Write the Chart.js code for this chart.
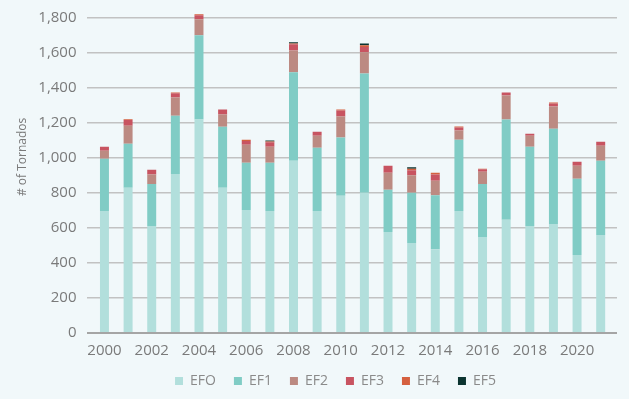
<!DOCTYPE html>
<html><head><meta charset="utf-8">
<script src="https://cdn.jsdelivr.net/npm/chart.js@4.4.1/dist/chart.umd.min.js"></script>
<style>html,body{margin:0;padding:0;background:#F1F8FA;overflow:hidden}#wrap{width:629px;height:399px}</style>
</head><body><div id="wrap"><canvas id="c" width="629" height="399"></canvas></div>
<script>
const years = ['2000','2001','2002','2003','2004','2005','2006','2007','2008','2009','2010','2011','2012','2013','2014','2015','2016','2017','2018','2019','2020','2021'];
const shownYears = ['2000','2002','2004','2006','2008','2010','2012','2014','2016','2018','2020'];
const legendNames = ['EFO','EF1','EF2','EF3','EF4','EF5'];
const ef0 = [696, 828, 610, 907, 1217, 828, 701, 696, 982, 696, 782, 800, 576, 513, 478, 696, 547, 645, 610, 622, 444, 559];
const ef1 = [298, 251, 240, 332, 480, 348, 269, 274, 504, 360, 332, 680, 240, 286, 308, 406, 303, 572, 452, 543, 435, 423];
const ef2 = [45, 103, 54, 103, 91, 69, 103, 92, 125, 69, 120, 120, 97, 100, 82, 52, 69, 137, 63, 126, 74, 86];
const ef3 = [23, 33, 26, 25, 24, 29, 22, 26, 35, 23, 34, 30, 40, 29, 36, 17, 14, 17, 11, 17, 23, 23];
const ef4 = [0, 3, 0, 4, 5, 0, 6, 4, 5, 0, 6, 10, 0, 9, 9, 6, 3, 0, 0, 6, 0, 0];
const ef5 = [0, 0, 0, 0, 0, 0, 0, 5, 6, 0, 0, 11, 0, 8, 0, 0, 0, 0, 0, 0, 0, 0];
const yTicks = [0, 200, 400, 600, 800, 1000, 1200, 1400, 1600, 1800];
const yMax = 1830;
const colors = ['#B2DFDC','#80CCC5','#BC8A82','#C85461','#D5603F','#0B3430'];
const series = [ef0, ef1, ef2, ef3, ef4, ef5];

const datasets = series.map((d, i) => ({
  label: legendNames[i],
  data: d.map((v, j) => ({ x: j, y: v })),
  backgroundColor: colors[i],
  borderWidth: 0,
  barPercentage: 0.38,
  categoryPercentage: 1.0
}));

const legendShift = {
  id: 'legendShift',
  afterLayout(chart) {
    const lg = chart.legend;
    if (!lg) return;
    lg.left += 27; lg.right += 27;
    lg.top -= 5; lg.bottom -= 5;
  }
};

new Chart(document.getElementById('c'), {
  type: 'bar',
  data: { datasets },
  plugins: [legendShift],
  options: {
    responsive: false,
    animation: false,
    devicePixelRatio: 1,
    layout: { padding: { left: 0, right: 12, top: 12, bottom: -4 } },
    plugins: {
      tooltip: { enabled: false },
      legend: {
        position: 'bottom',
        labels: {
          boxWidth: 8, boxHeight: 8, padding: 18,
          color: '#8a8a8a',
          font: { family: 'Open Sans', size: 14 }
        }
      }
    },
    scales: {
      x: {
        type: 'linear',
        stacked: true,
        min: -0.76, max: 21.69,
        offset: false,
        grid: { display: false },
        border: { display: false },
        afterBuildTicks: s => { s.ticks = shownYears.map(y => ({ value: years.indexOf(y) })); },
        ticks: {
          autoSkip: false, maxRotation: 0, padding: 1,
          color: '#7a7a7a',
          font: { family: 'Open Sans', size: 15 },
          callback: v => years[v]
        }
      },
      y: {
        stacked: true,
        min: 0, max: yMax,
        afterFit: s => { s.width = 86.5; },
        afterBuildTicks: s => { s.ticks = yTicks.map(v => ({ value: v })); },
        border: { display: false },
        grid: {
          drawTicks: true, tickLength: 10, tickColor: 'rgba(0,0,0,0)',
          color: c => c.tick && c.tick.value === 0 ? '#a5a5a5' : '#c2c2c2',
          lineWidth: c => c.tick && c.tick.value === 0 ? 2 : 1.5
        },
        ticks: {
          padding: 0,
          color: '#7a7a7a',
          font: { family: 'Open Sans', size: 15 },
          callback: v => v.toLocaleString('en-US')
        },
        title: {
          display: true, text: '          # of Tornados', color: '#7a7a7a',
          font: { family: 'Open Sans', size: 12, lineHeight: 1.2 },
          padding: { top: 15, bottom: 0 }
        }
      }
    }
  }
});
</script></body></html>
